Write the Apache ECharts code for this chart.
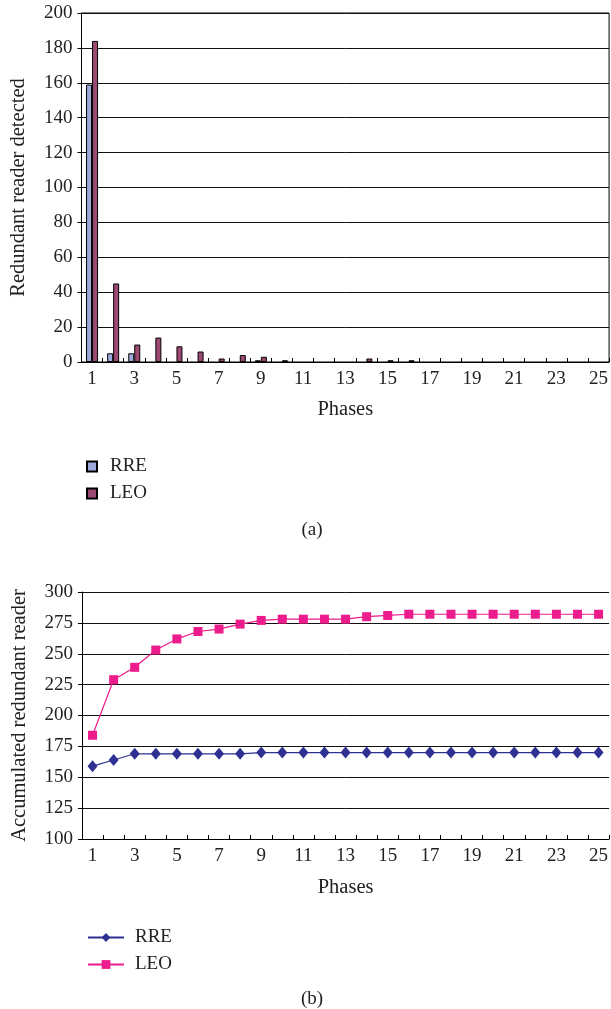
<!DOCTYPE html>
<html>
<head>
<meta charset="utf-8">
<script src="https://cdn.jsdelivr.net/npm/echarts@6/dist/echarts.min.js"></script>
<style>
html,body{margin:0;padding:0;background:#fff;}
#c{width:611px;height:1009px;}
</style>
</head>
<body>
<div id="c"></div>
<script>
var phases = ['1','2','3','4','5','6','7','8','9','10','11','12','13','14','15','16','17','18','19','20','21','22','23','24','25'];
var rreDetected = [159,5,5,0,0,0,0,0,1,0,0,0,0,0,0,0,0,0,0,0,0,0,0,0,0];
var leoDetected = [184,45,10,14,9,6,2,4,3,1,0,0,0,2,1,1,0,0,0,0,0,0,0,0,0];
var rreAccumulated = [159,164,169,169,169,169,169,169,170,170,170,170,170,170,170,170,170,170,170,170,170,170,170,170,170];
var leoAccumulated = [184,229,239,253,262,268,270,274,277,278,278,278,278,280,281,282,282,282,282,282,282,282,282,282,282];
var barYTicks = [0,20,40,60,80,100,120,140,160,180,200];
var lineYTicks = [100,125,150,175,200,225,250,275,300];

var FONT = 'Liberation Serif';
var TXT = '#222';

// zero-height bars are not drawn (no mark at all in the reference)
function hideZeros(arr) { return arr.map(function (v) { return v === 0 ? '-' : v; }); }

var chart = echarts.init(document.getElementById('c'));

function xAxisCfg(gridIndex, gap) {
  return {
    type: 'category', gridIndex: gridIndex, data: phases, boundaryGap: true,
    name: 'Phases', nameLocation: 'middle', nameGap: gap,
    nameTextStyle: {fontFamily: FONT, fontSize: 20.5, color: TXT},
    axisLine: {lineStyle: {color: '#000', width: 1}},
    axisTick: {show: true, inside: true, length: 4, interval: 0, lineStyle: {color: '#000'}},
    axisLabel: {interval: 1, margin: 8, fontFamily: FONT, fontSize: 19, color: TXT},
    splitLine: {show: false}
  };
}

function yAxisCfg(gridIndex, ticks, interval, name) {
  return {
    type: 'value', gridIndex: gridIndex, min: ticks[0], max: ticks[ticks.length-1], interval: interval,
    name: name, nameLocation: 'middle', nameGap: 52,
    nameTextStyle: {fontFamily: FONT, fontSize: 20.5, color: TXT},
    axisLine: {show: true, lineStyle: {color: '#000'}},
    axisTick: {show: true, length: 4, lineStyle: {color: '#000'}},
    axisLabel: {margin: 9, fontFamily: FONT, fontSize: 19, color: TXT},
    splitLine: {show: true, lineStyle: {color: '#111', width: 1}}
  };
}

chart.setOption({
  animation: false,
  backgroundColor: '#fff',
  title: [
    {text: '(a)', left: 307, top: 516, textAlign: 'center',
     textStyle: {fontFamily: FONT, fontSize: 19, fontWeight: 'normal', color: TXT}},
    {text: '(b)', left: 307, top: 985, textAlign: 'center',
     textStyle: {fontFamily: FONT, fontSize: 19, fontWeight: 'normal', color: TXT}}
  ],
  grid: [
    {left: 81.5, top: 13, width: 528.5, height: 349, show: true, borderColor: '#000', borderWidth: 1, backgroundColor: 'transparent'},
    {left: 82, top: 592, width: 530, height: 247}
  ],
  legend: [
    {orient: 'vertical', left: 81, top: 452, itemWidth: 10, itemHeight: 10, itemGap: 8,
     icon: 'rect',
     data: ['RRE', 'LEO'],
     textStyle: {fontFamily: FONT, fontSize: 19, color: TXT, padding: [0,0,0,8]}},
    {orient: 'vertical', left: 82, top: 923, itemWidth: 36, itemHeight: 11, itemGap: 8,
     data: ['RRE (b)', 'LEO (b)'],
     formatter: function (n) { return n.split(' ')[0]; },
     textStyle: {fontFamily: FONT, fontSize: 19, color: TXT, padding: [0,0,0,6]}}
  ],
  xAxis: [xAxisCfg(0, 37), xAxisCfg(1, 38)],
  yAxis: [
    yAxisCfg(0, barYTicks, 20, 'Redundant reader detected'),
    yAxisCfg(1, lineYTicks, 25, 'Accumulated redundant reader')
  ],
  series: [
    {name: 'RRE', type: 'bar', xAxisIndex: 0, yAxisIndex: 0, data: hideZeros(rreDetected),
     barWidth: 6, barGap: '0%',
     itemStyle: {color: '#9ca9d9', borderColor: '#000', borderWidth: 1}},
    {name: 'LEO', type: 'bar', xAxisIndex: 0, yAxisIndex: 0, data: hideZeros(leoDetected),
     barWidth: 6, barGap: '0%',
     itemStyle: {color: '#9c4a74', borderColor: '#000', borderWidth: 1}},
    {name: 'RRE (b)', type: 'line', xAxisIndex: 1, yAxisIndex: 1, data: rreAccumulated,
     symbol: 'diamond', symbolSize: [10, 12],
     lineStyle: {color: '#2e3192', width: 1.2},
     itemStyle: {color: '#2e3192'}},
    {name: 'LEO (b)', type: 'line', xAxisIndex: 1, yAxisIndex: 1, data: leoAccumulated,
     symbol: 'rect', symbolSize: 9,
     lineStyle: {color: '#ec1c8c', width: 1.2},
     itemStyle: {color: '#ec1c8c'}}
  ]
});
</script>
</body>
</html>
